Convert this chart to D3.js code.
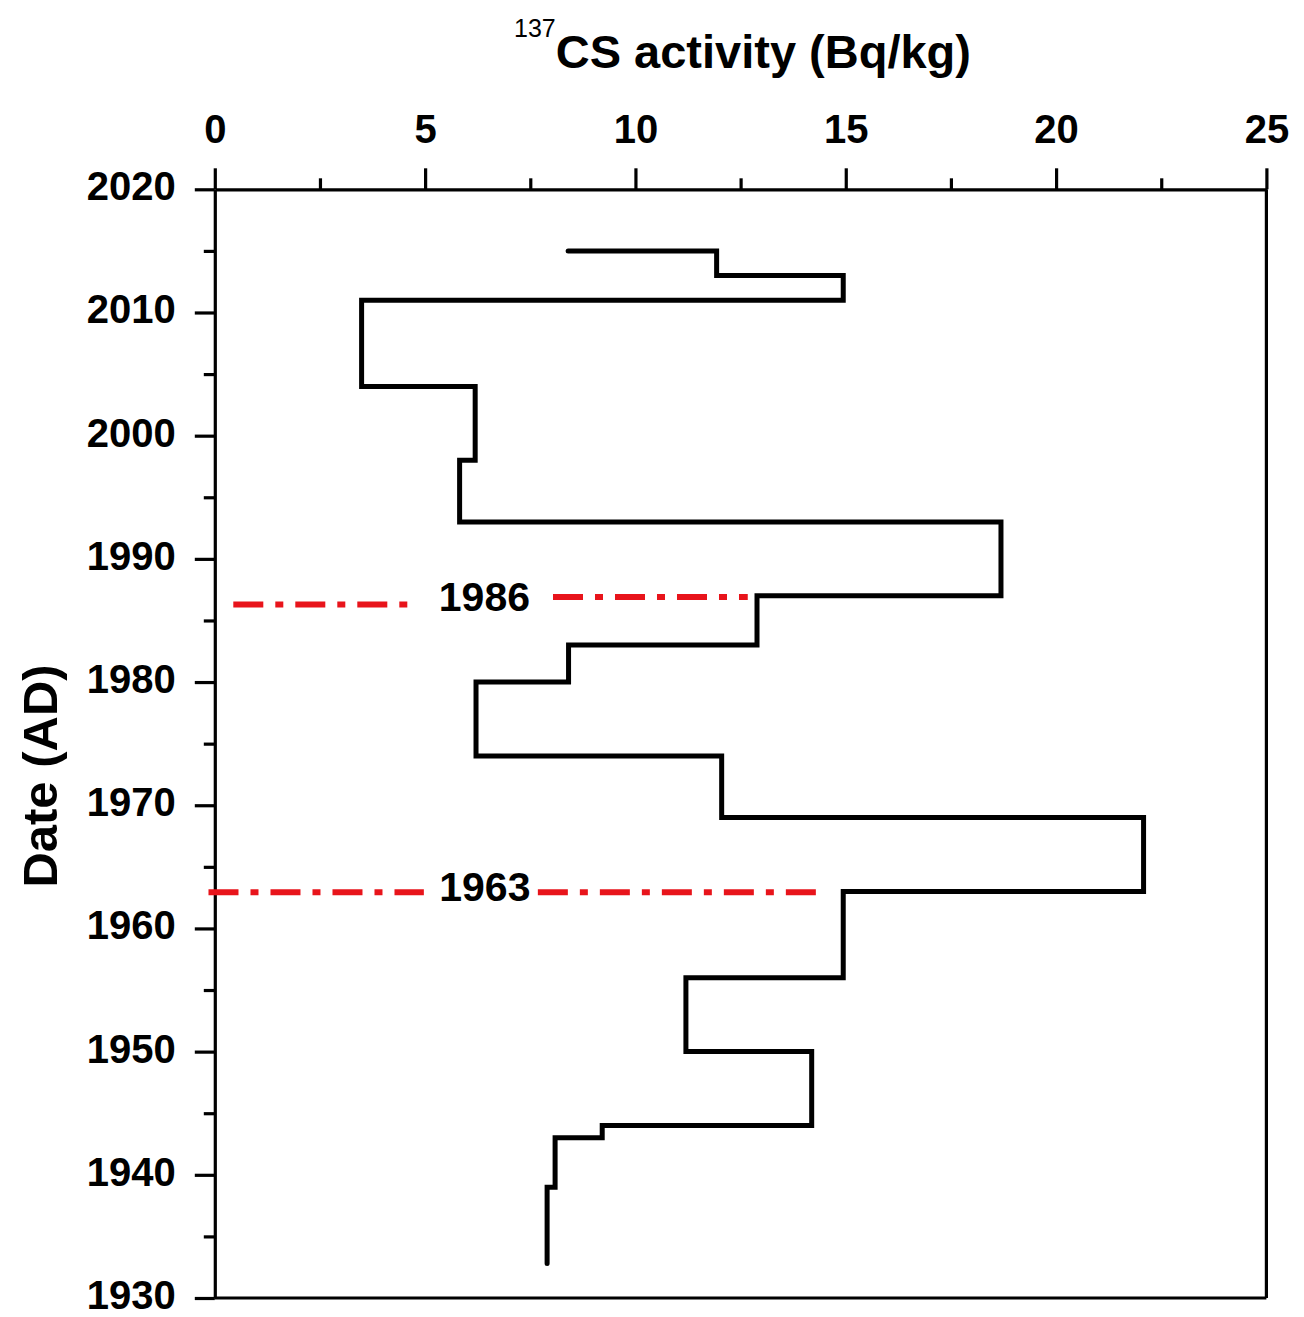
<!DOCTYPE html>
<html>
<head>
<meta charset="utf-8">
<script src="https://cdn.jsdelivr.net/npm/d3@7"></script>
<style>
  body { margin: 0; background: #fff; }
  svg { display: block; font-family: "Liberation Sans", Arial, sans-serif; }
</style>
</head>
<body>
<svg width="1304" height="1317"></svg>
<script>
// 137Cs activity per dated layer (step profile, top to bottom)
const years = [2015, 2013, 2011, 2004, 1998, 1993, 1987, 1983, 1980, 1974, 1969, 1963, 1956, 1950, 1944, 1943, 1939, 1932.8];
const activity = [8.4, 11.93, 14.94, 3.49, 6.19, 5.82, 18.69, 12.89, 8.41, 6.21, 12.05, 22.08, 14.94, 11.2, 14.19, 9.21, 8.09, 7.9];

const xTicks = [0, 5, 10, 15, 20, 25];
const xMinor = [2.5, 7.5, 12.5, 17.5, 22.5];
const yTicks = [1930, 1940, 1950, 1960, 1970, 1980, 1990, 2000, 2010, 2020];
const yMinor = [1935, 1945, 1955, 1965, 1975, 1985, 1995, 2005, 2015];

// marker horizons (dash-dot lines broken by a label)
const refLabels = ['1986', '1963'];
const refLeftYear = [1986.3, 1962.93];
const refRightYear = [1986.9, 1962.93];
const refLeftSpan = [[0.44, 4.59], [-0.15, 4.97]];
const refRightSpan = [[8.04, 12.67], [7.68, 14.32]];
const refLabelX = [6.41, 6.42];

const svg = d3.select('svg');

let x = d3.scaleLinear().domain([0, 25]).range([214.8, 1266.4]);
let y = d3.scaleLinear().domain([1930, 2020]).range([1298, 189.3]);

const axisColor = '#000';

// top axis
let topAxis = svg.append('g')
    .attr('transform', `translate(0,${y(2020)})`)
    .call(d3.axisTop(x).tickValues(xTicks).tickSize(21).tickSizeOuter(0).tickPadding(25).tickFormat(d3.format('d')));

svg.append('g')
    .attr('transform', `translate(0,${y(2020)})`)
    .call(d3.axisTop(x).tickValues(xMinor).tickSize(11).tickSizeOuter(0).tickFormat(''))
    .call(g => g.select('.domain').remove());

// left axis
let leftAxis = svg.append('g')
    .attr('transform', `translate(${x(0)},0)`)
    .call(d3.axisLeft(y).tickValues(yTicks).tickSize(20).tickSizeOuter(0).tickPadding(19).tickFormat(d3.format('d')));

svg.append('g')
    .attr('transform', `translate(${x(0)},0)`)
    .call(d3.axisLeft(y).tickValues(yMinor).tickSize(11).tickSizeOuter(0).tickFormat(''))
    .call(g => g.select('.domain').remove());

svg.selectAll('.domain, .tick line')
    .attr('stroke', axisColor)
    .attr('stroke-width', 3.2);

svg.selectAll('.tick text')
    .attr('fill', '#000')
    .attr('font-size', '40px')
    .attr('font-weight', 'bold');

leftAxis.selectAll('.tick text').attr('dy', '0.26em');

// right and bottom frame
svg.append('line')
    .attr('x1', x(25)).attr('x2', x(25))
    .attr('y1', y(2020)).attr('y2', y(1930))
    .attr('stroke', axisColor).attr('stroke-width', 3.2);

svg.append('line')
    .attr('x1', x(0)).attr('x2', x(25))
    .attr('y1', y(1930)).attr('y2', y(1930))
    .attr('stroke', axisColor).attr('stroke-width', 3.2);

// step profile
const points = years.map((yr, i) => ({ yr: yr, v: activity[i] }));

let line = d3.line()
    .x(d => x(d.v))
    .y(d => y(d.yr))
    .curve(d3.curveStepAfter);

svg.append('path')
    .datum(points)
    .attr('d', line)
    .attr('fill', 'none')
    .attr('stroke', '#000')
    .attr('stroke-width', 5)
    .attr('stroke-linejoin', 'miter')
    .attr('stroke-linecap', 'round');

// reference horizons
let refGroup = svg.append('g');

refLabels.forEach((label, i) => {
    refGroup.append('line')
        .attr('x1', x(refLeftSpan[i][0])).attr('x2', x(refLeftSpan[i][1]))
        .attr('y1', y(refLeftYear[i])).attr('y2', y(refLeftYear[i]))
        .attr('stroke', '#e8141b')
        .attr('stroke-width', 6)
        .attr('stroke-dasharray', '30,12,8,12');

    refGroup.append('line')
        .attr('x1', x(refRightSpan[i][0])).attr('x2', x(refRightSpan[i][1]))
        .attr('y1', y(refRightYear[i])).attr('y2', y(refRightYear[i]))
        .attr('stroke', '#e8141b')
        .attr('stroke-width', 6)
        .attr('stroke-dasharray', '30,12,8,12');

    refGroup.append('text')
        .attr('x', x(refLabelX[i]))
        .attr('y', y(refRightYear[i]))
        .attr('dy', i == 0 ? '0.33em' : '0.2em')
        .attr('text-anchor', 'middle')
        .attr('font-size', '41px')
        .attr('font-weight', 'bold')
        .attr('fill', '#000')
        .text(label);
});

// axis titles
let title = svg.append('text')
    .attr('x', 514)
    .attr('y', 68)
    .attr('text-anchor', 'start')
    .attr('fill', '#000');

title.append('tspan')
    .attr('font-size', '25px')
    .attr('dy', '-31')
    .text('137');

title.append('tspan')
    .attr('font-size', '47px')
    .attr('font-weight', 'bold')
    .attr('dy', '31')
    .text('CS activity (Bq/kg)');

svg.append('text')
    .attr('transform', 'translate(57,776) rotate(-90)')
    .attr('text-anchor', 'middle')
    .attr('font-size', '49px')
    .attr('font-weight', 'bold')
    .attr('fill', '#000')
    .text('Date (AD)');
</script>
</body>
</html>
